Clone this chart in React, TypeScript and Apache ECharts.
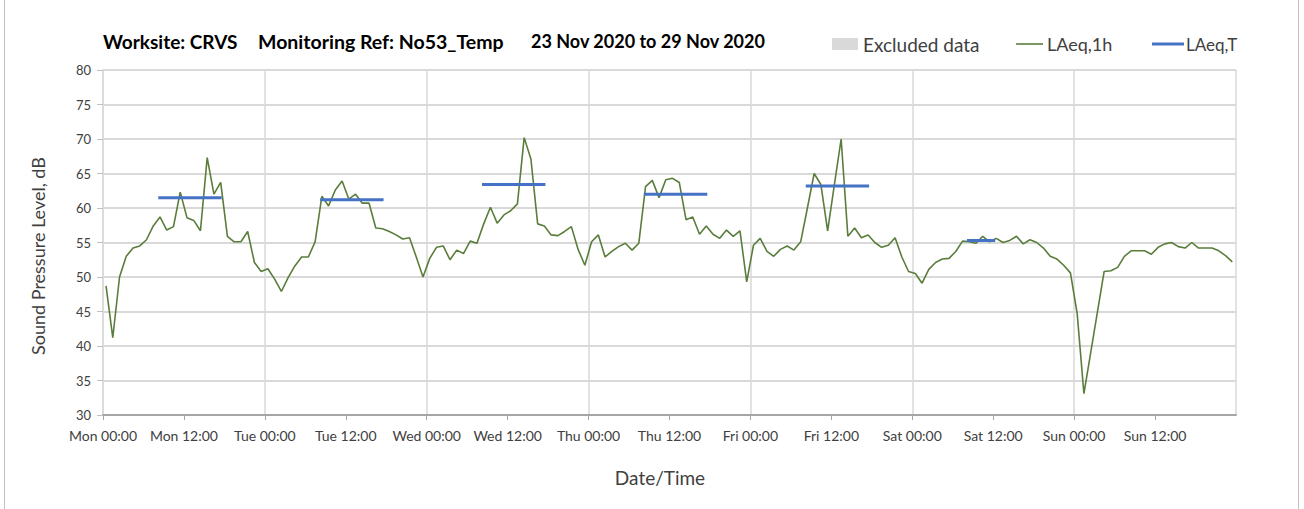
import React, { useEffect, useRef } from "react";
import * as echarts from "echarts";

const dayNames = ["Mon", "Tue", "Wed", "Thu", "Fri", "Sat", "Sun"];
const yTicks = [30, 35, 40, 45, 50, 55, 60, 65, 70, 75, 80];

// Hourly LAeq,1h values, Mon 00:00 .. Sun 23:00
const laeq1h = [
  48.7, 41.2, 50.0, 53.0, 54.2, 54.5, 55.4, 57.4, 58.7, 56.8, 57.3, 62.3,
  58.6, 58.2, 56.7, 67.3, 62.0, 63.7, 55.9, 55.1, 55.1, 56.6, 52.1, 50.8,
  51.2, 49.7, 47.9, 49.9, 51.6, 52.9, 52.9, 55.1, 61.7, 60.3, 62.6, 63.9,
  61.3, 62.0, 60.7, 60.7, 57.1, 57.0, 56.6, 56.1, 55.5, 55.7, 52.9, 50.0,
  52.7, 54.3, 54.5, 52.5, 53.9, 53.4, 55.2, 54.9, 57.7, 60.1, 57.8, 59.0,
  59.6, 60.6, 70.2, 67.1, 57.7, 57.4, 56.1, 56.0, 56.6, 57.3, 54.0, 51.7,
  55.1, 56.1, 52.9, 53.7, 54.4, 54.9, 53.9, 54.9, 63.1, 64.0, 61.5, 64.1,
  64.3, 63.7, 58.3, 58.7, 56.2, 57.4, 56.2, 55.6, 56.8, 55.9, 56.7, 49.3,
  54.6, 55.6, 53.7, 53.0, 54.0, 54.5, 53.9, 55.1, 60.0, 65.0, 63.4, 56.7,
  63.4, 70.0, 55.9, 57.1, 55.7, 56.1, 55.0, 54.3, 54.6, 55.7, 52.9, 50.8,
  50.5, 49.1, 51.1, 52.1, 52.6, 52.7, 53.7, 55.2, 55.1, 54.9, 55.9, 55.1,
  55.6, 55.0, 55.3, 55.9, 54.8, 55.4, 55.0, 54.2, 53.0, 52.6, 51.7, 50.6,
  44.7, 33.1, 39.0, 44.9, 50.8, 50.9, 51.4, 53.0, 53.8, 53.8, 53.8, 53.3,
  54.3, 54.8, 55.0, 54.4, 54.2, 55.0, 54.2, 54.2, 54.2, 53.8, 53.1, 52.2,
];

// LAeq,T periods: day index, start hour, end hour, level
const periodDay = [0, 1, 2, 3, 4, 5];
const periodStart = [8.2, 8.2, 8.2, 8.2, 8.2, 8.1];
const periodEnd = [17.6, 17.6, 17.6, 17.6, 17.6, 12.3];
const periodLevel = [61.5, 61.2, 63.4, 62.0, 63.2, 55.3];

const legendNames = ["Excluded data", "LAeq,1h", "LAeq,T"];
const titleParts = ["Worksite: CRVS", "Monitoring Ref: No53_Temp", "23 Nov 2020 to 29 Nov 2020"];

const FONT = "Lato, 'Open Sans', sans-serif";
const GREEN = "#5a7d3c";
const BLUE = "#4472c4";

export default function App() {
  const ref = useRef<HTMLDivElement>(null);

  useEffect(() => {
    document.body.style.margin = "0";
    if (!ref.current) return;
    const chart = echarts.init(ref.current, undefined, { renderer: "svg" });

    const lineData = laeq1h.map((v, i) => [i + 0.45, v]);
    const periodSeries = periodDay.map((d, i) => ({
      name: legendNames[2],
      type: "line",
      symbol: "none",
      silent: true,
      lineStyle: { color: BLUE, width: 3 },
      itemStyle: { color: BLUE },
      data: [
        [d * 24 + periodStart[i], periodLevel[i]],
        [d * 24 + periodEnd[i], periodLevel[i]],
      ],
      z: 4,
    }));

    const legendFont = `18px ${FONT}`;
    const titleFont = `bold 19px ${FONT}`;

    const option: any = {
      animation: false,
      textStyle: { fontFamily: FONT },
      grid: { left: 103, right: 68, top: 70, bottom: 94 },
      xAxis: [
        {
          type: "value",
          min: 0,
          max: 168,
          interval: 12,
          axisLine: { show: true, lineStyle: { color: "#a6a6a6", width: 2 } },
          axisTick: { show: true, length: 5, lineStyle: { color: "#a6a6a6" } },
          splitLine: { show: false },
          axisLabel: {
            color: "#404040",
            fontSize: 14,
            margin: 13,
            showMaxLabel: false,
            formatter: (v: number) => {
              if (v >= 168) return "";
              const d = Math.floor(v / 24);
              return dayNames[d] + (v % 24 === 0 ? " 00:00" : " 12:00");
            },
          },
        },
        {
          type: "value",
          min: 0,
          max: 168,
          interval: 24,
          position: "bottom",
          axisLine: { show: false },
          axisTick: { show: false },
          axisLabel: { show: false },
          splitLine: { show: true, lineStyle: { color: "#d9d9d9", width: 1.5 } },
        },
      ],
      yAxis: {
        type: "value",
        min: 30,
        max: 80,
        interval: 5,
        axisLine: { show: true, lineStyle: { color: "#d9d9d9", width: 1.5 } },
        axisTick: { show: true, length: 6, lineStyle: { color: "#bfbfbf" } },
        splitLine: { show: true, lineStyle: { color: "#d9d9d9", width: 2 } },
        axisLabel: {
          color: "#404040",
          fontSize: 13,
          margin: 12,
          formatter: (v: number) => (yTicks.includes(v) ? String(v) : ""),
        },
      },
      graphic: [
        { type: "line", shape: { x1: 4.5, y1: 0, x2: 4.5, y2: 509 }, style: { stroke: "#bfbfbf", lineWidth: 1 } },
        { type: "line", shape: { x1: 1298.5, y1: 0, x2: 1298.5, y2: 509 }, style: { stroke: "#bfbfbf", lineWidth: 1 } },
        { type: "text", x: 103, y: 41, style: { text: titleParts[0], font: titleFont, fill: "#000", verticalAlign: "middle" } },
        { type: "text", x: 258, y: 41, style: { text: titleParts[1], font: `bold 19.5px ${FONT}`, fill: "#000", verticalAlign: "middle" } },
        { type: "text", x: 531, y: 41, style: { text: titleParts[2], font: `bold 18px ${FONT}`, fill: "#000", verticalAlign: "middle" } },
        // legend
        { type: "rect", shape: { x: 832, y: 38, width: 26, height: 12 }, style: { fill: "#d9d9d9" } },
        { type: "text", x: 863, y: 44, style: { text: legendNames[0], font: `19px ${FONT}`, fill: "#404040", verticalAlign: "middle" } },
        { type: "line", shape: { x1: 1016, y1: 44, x2: 1043, y2: 44 }, style: { stroke: GREEN, lineWidth: 1.6 } },
        { type: "text", x: 1047, y: 44, style: { text: legendNames[1], font: legendFont, fill: "#404040", verticalAlign: "middle" } },
        { type: "line", shape: { x1: 1152, y1: 44, x2: 1184, y2: 44 }, style: { stroke: BLUE, lineWidth: 3 } },
        { type: "text", x: 1186, y: 44, style: { text: legendNames[2], font: `17px ${FONT}`, fill: "#404040", verticalAlign: "middle" } },
        {
          type: "text",
          x: 38,
          y: 256,
          rotation: Math.PI / 2,
          style: { text: "Sound Pressure Level, dB", font: `18px ${FONT}`, fill: "#404040", align: "center", verticalAlign: "middle" },
        },
        {
          type: "text",
          x: 660,
          y: 477,
          style: { text: "Date/Time", font: `19px ${FONT}`, fill: "#404040", align: "center", verticalAlign: "middle" },
        },
      ],
      series: [
        {
          name: legendNames[1],
          type: "line",
          symbol: "none",
          data: lineData,
          lineStyle: { color: GREEN, width: 1.6 },
          itemStyle: { color: GREEN },
          z: 3,
        },
        ...periodSeries,
      ],
    };
    chart.setOption(option);
    return () => chart.dispose();
  }, []);

  return <div ref={ref} style={{ width: 1304, height: 509 }} />;
}
